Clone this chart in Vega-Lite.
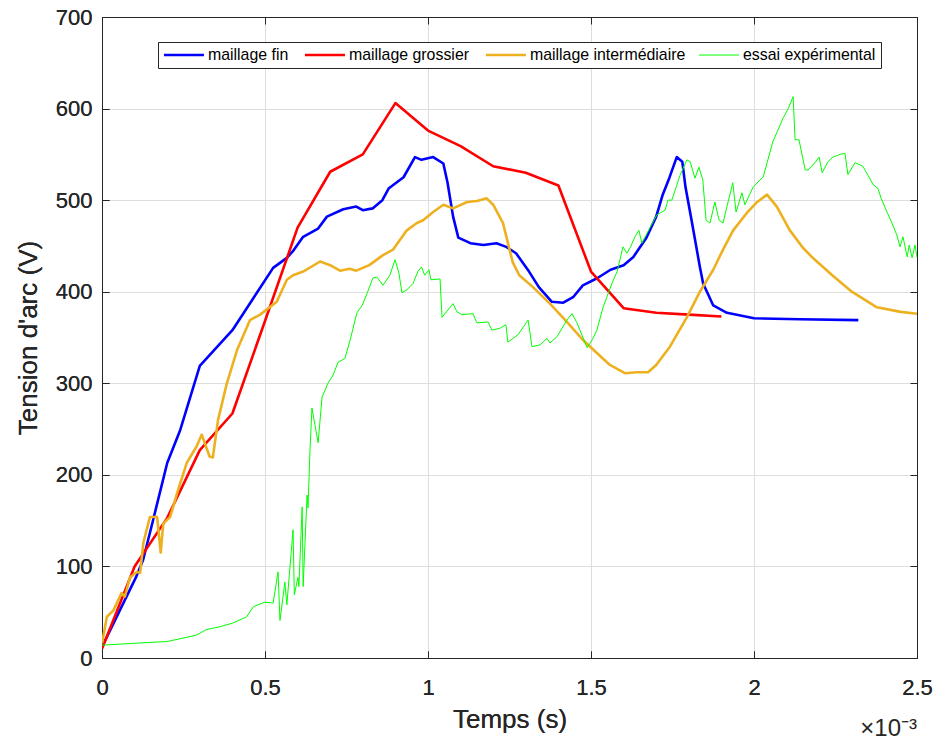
{
  "$schema": "https://vega.github.io/schema/vega-lite/v6.json",
  "autosize": "none",
  "width": 815,
  "height": 641,
  "padding": {"left": 102, "top": 17, "right": 22, "bottom": 88},
  "background": "white",
  "config": {
    "font": "Liberation Sans",
    "view": {"stroke": "#262626", "strokeWidth": 1},
    "axis": {"domainColor": "#262626", "tickColor": "#262626", "labelColor": "#262626", "titleColor": "#262626", "labelFont": "Liberation Sans", "titleFont": "Liberation Sans", "titleFontWeight": "normal"}
  },
  "data": {"values": [
    {"s":"maillage fin","t":0,"v":12},{"s":"maillage fin","t":0.104,"v":88},{"s":"maillage fin","t":0.126,"v":107},{"s":"maillage fin","t":0.157,"v":151},{"s":"maillage fin","t":0.2,"v":213},{"s":"maillage fin","t":0.24,"v":249},{"s":"maillage fin","t":0.3,"v":319},{"s":"maillage fin","t":0.4,"v":358},{"s":"maillage fin","t":0.525,"v":426},{"s":"maillage fin","t":0.567,"v":437},{"s":"maillage fin","t":0.585,"v":444},{"s":"maillage fin","t":0.617,"v":460},{"s":"maillage fin","t":0.663,"v":469},{"s":"maillage fin","t":0.69,"v":482},{"s":"maillage fin","t":0.74,"v":490},{"s":"maillage fin","t":0.78,"v":493},{"s":"maillage fin","t":0.8,"v":489},{"s":"maillage fin","t":0.83,"v":491},{"s":"maillage fin","t":0.86,"v":500},{"s":"maillage fin","t":0.88,"v":513},{"s":"maillage fin","t":0.925,"v":525},{"s":"maillage fin","t":0.96,"v":547},{"s":"maillage fin","t":0.98,"v":544},{"s":"maillage fin","t":1.016,"v":547},{"s":"maillage fin","t":1.047,"v":540},{"s":"maillage fin","t":1.06,"v":519},{"s":"maillage fin","t":1.077,"v":482},{"s":"maillage fin","t":1.093,"v":459},{"s":"maillage fin","t":1.13,"v":453},{"s":"maillage fin","t":1.17,"v":451},{"s":"maillage fin","t":1.21,"v":453},{"s":"maillage fin","t":1.24,"v":449},{"s":"maillage fin","t":1.27,"v":442},{"s":"maillage fin","t":1.31,"v":422},{"s":"maillage fin","t":1.34,"v":405},{"s":"maillage fin","t":1.38,"v":389},{"s":"maillage fin","t":1.415,"v":388},{"s":"maillage fin","t":1.445,"v":394},{"s":"maillage fin","t":1.475,"v":407},{"s":"maillage fin","t":1.52,"v":415},{"s":"maillage fin","t":1.56,"v":424},{"s":"maillage fin","t":1.6,"v":429},{"s":"maillage fin","t":1.63,"v":438},{"s":"maillage fin","t":1.67,"v":459},{"s":"maillage fin","t":1.7,"v":482},{"s":"maillage fin","t":1.72,"v":506},{"s":"maillage fin","t":1.74,"v":524},{"s":"maillage fin","t":1.763,"v":547},{"s":"maillage fin","t":1.78,"v":542},{"s":"maillage fin","t":1.79,"v":514},{"s":"maillage fin","t":1.81,"v":475},{"s":"maillage fin","t":1.834,"v":427},{"s":"maillage fin","t":1.844,"v":409},{"s":"maillage fin","t":1.875,"v":385},{"s":"maillage fin","t":1.917,"v":377},{"s":"maillage fin","t":2.0,"v":371},{"s":"maillage fin","t":2.14,"v":370},{"s":"maillage fin","t":2.32,"v":369},
    {"s":"maillage grossier","t":0,"v":10},{"s":"maillage grossier","t":0.1,"v":100},{"s":"maillage grossier","t":0.2,"v":153},{"s":"maillage grossier","t":0.3,"v":227},{"s":"maillage grossier","t":0.4,"v":267},{"s":"maillage grossier","t":0.5,"v":368},{"s":"maillage grossier","t":0.6,"v":470},{"s":"maillage grossier","t":0.7,"v":531},{"s":"maillage grossier","t":0.8,"v":550},{"s":"maillage grossier","t":0.9,"v":606},{"s":"maillage grossier","t":1.0,"v":576},{"s":"maillage grossier","t":1.1,"v":559},{"s":"maillage grossier","t":1.2,"v":537},{"s":"maillage grossier","t":1.3,"v":530},{"s":"maillage grossier","t":1.4,"v":516},{"s":"maillage grossier","t":1.5,"v":422},{"s":"maillage grossier","t":1.6,"v":382},{"s":"maillage grossier","t":1.7,"v":377},{"s":"maillage grossier","t":1.8,"v":375},{"s":"maillage grossier","t":1.9,"v":373},
    {"s":"maillage intermédiaire","t":0,"v":16},{"s":"maillage intermédiaire","t":0.015,"v":45},{"s":"maillage intermédiaire","t":0.035,"v":52},{"s":"maillage intermédiaire","t":0.06,"v":71},{"s":"maillage intermédiaire","t":0.07,"v":67},{"s":"maillage intermédiaire","t":0.086,"v":88},{"s":"maillage intermédiaire","t":0.107,"v":94},{"s":"maillage intermédiaire","t":0.117,"v":93},{"s":"maillage intermédiaire","t":0.127,"v":126},{"s":"maillage intermédiaire","t":0.147,"v":154},{"s":"maillage intermédiaire","t":0.169,"v":154},{"s":"maillage intermédiaire","t":0.18,"v":115},{"s":"maillage intermédiaire","t":0.188,"v":147},{"s":"maillage intermédiaire","t":0.209,"v":154},{"s":"maillage intermédiaire","t":0.233,"v":183},{"s":"maillage intermédiaire","t":0.26,"v":213},{"s":"maillage intermédiaire","t":0.29,"v":231},{"s":"maillage intermédiaire","t":0.306,"v":244},{"s":"maillage intermédiaire","t":0.33,"v":220},{"s":"maillage intermédiaire","t":0.34,"v":219},{"s":"maillage intermédiaire","t":0.356,"v":260},{"s":"maillage intermédiaire","t":0.383,"v":300},{"s":"maillage intermédiaire","t":0.414,"v":336},{"s":"maillage intermédiaire","t":0.454,"v":369},{"s":"maillage intermédiaire","t":0.485,"v":375},{"s":"maillage intermédiaire","t":0.536,"v":389},{"s":"maillage intermédiaire","t":0.567,"v":413},{"s":"maillage intermédiaire","t":0.586,"v":418},{"s":"maillage intermédiaire","t":0.617,"v":422},{"s":"maillage intermédiaire","t":0.669,"v":433},{"s":"maillage intermédiaire","t":0.7,"v":429},{"s":"maillage intermédiaire","t":0.73,"v":423},{"s":"maillage intermédiaire","t":0.76,"v":425},{"s":"maillage intermédiaire","t":0.78,"v":423},{"s":"maillage intermédiaire","t":0.82,"v":429},{"s":"maillage intermédiaire","t":0.862,"v":440},{"s":"maillage intermédiaire","t":0.893,"v":446},{"s":"maillage intermédiaire","t":0.935,"v":467},{"s":"maillage intermédiaire","t":0.966,"v":475},{"s":"maillage intermédiaire","t":0.985,"v":478},{"s":"maillage intermédiaire","t":1.016,"v":487},{"s":"maillage intermédiaire","t":1.047,"v":495},{"s":"maillage intermédiaire","t":1.077,"v":491},{"s":"maillage intermédiaire","t":1.12,"v":498},{"s":"maillage intermédiaire","t":1.15,"v":499},{"s":"maillage intermédiaire","t":1.18,"v":502},{"s":"maillage intermédiaire","t":1.2,"v":495},{"s":"maillage intermédiaire","t":1.23,"v":475},{"s":"maillage intermédiaire","t":1.246,"v":452},{"s":"maillage intermédiaire","t":1.26,"v":432},{"s":"maillage intermédiaire","t":1.28,"v":418},{"s":"maillage intermédiaire","t":1.322,"v":405},{"s":"maillage intermédiaire","t":1.374,"v":387},{"s":"maillage intermédiaire","t":1.426,"v":367},{"s":"maillage intermédiaire","t":1.476,"v":347},{"s":"maillage intermédiaire","t":1.518,"v":333},{"s":"maillage intermédiaire","t":1.558,"v":320},{"s":"maillage intermédiaire","t":1.604,"v":311},{"s":"maillage intermédiaire","t":1.64,"v":312},{"s":"maillage intermédiaire","t":1.675,"v":312},{"s":"maillage intermédiaire","t":1.7,"v":320},{"s":"maillage intermédiaire","t":1.742,"v":340},{"s":"maillage intermédiaire","t":1.794,"v":372},{"s":"maillage intermédiaire","t":1.834,"v":400},{"s":"maillage intermédiaire","t":1.875,"v":424},{"s":"maillage intermédiaire","t":1.905,"v":446},{"s":"maillage intermédiaire","t":1.936,"v":467},{"s":"maillage intermédiaire","t":1.978,"v":486},{"s":"maillage intermédiaire","t":2.01,"v":498},{"s":"maillage intermédiaire","t":2.04,"v":506},{"s":"maillage intermédiaire","t":2.07,"v":493},{"s":"maillage intermédiaire","t":2.11,"v":467},{"s":"maillage intermédiaire","t":2.15,"v":448},{"s":"maillage intermédiaire","t":2.18,"v":437},{"s":"maillage intermédiaire","t":2.24,"v":418},{"s":"maillage intermédiaire","t":2.3,"v":400},{"s":"maillage intermédiaire","t":2.377,"v":383},{"s":"maillage intermédiaire","t":2.45,"v":378},{"s":"maillage intermédiaire","t":2.5,"v":376},
    {"s":"essai expérimental","t":0,"v":14},{"s":"essai expérimental","t":0.095,"v":16},{"s":"essai expérimental","t":0.2,"v":18},{"s":"essai expérimental","t":0.29,"v":25},{"s":"essai expérimental","t":0.32,"v":31},{"s":"essai expérimental","t":0.36,"v":34},{"s":"essai expérimental","t":0.4,"v":38},{"s":"essai expérimental","t":0.444,"v":45},{"s":"essai expérimental","t":0.464,"v":56},{"s":"essai expérimental","t":0.485,"v":59},{"s":"essai expérimental","t":0.5,"v":61},{"s":"essai expérimental","t":0.525,"v":60},{"s":"essai expérimental","t":0.54,"v":94},{"s":"essai expérimental","t":0.546,"v":41},{"s":"essai expérimental","t":0.561,"v":83},{"s":"essai expérimental","t":0.567,"v":58},{"s":"essai expérimental","t":0.586,"v":140},{"s":"essai expérimental","t":0.59,"v":69},{"s":"essai expérimental","t":0.601,"v":88},{"s":"essai expérimental","t":0.604,"v":78},{"s":"essai expérimental","t":0.614,"v":165},{"s":"essai expérimental","t":0.617,"v":78},{"s":"essai expérimental","t":0.629,"v":178},{"s":"essai expérimental","t":0.632,"v":164},{"s":"essai expérimental","t":0.638,"v":227},{"s":"essai expérimental","t":0.644,"v":273},{"s":"essai expérimental","t":0.663,"v":235},{"s":"essai expérimental","t":0.675,"v":285},{"s":"essai expérimental","t":0.693,"v":300},{"s":"essai expérimental","t":0.709,"v":309},{"s":"essai expérimental","t":0.724,"v":323},{"s":"essai expérimental","t":0.745,"v":327},{"s":"essai expérimental","t":0.761,"v":347},{"s":"essai expérimental","t":0.782,"v":377},{"s":"essai expérimental","t":0.798,"v":385},{"s":"essai expérimental","t":0.813,"v":398},{"s":"essai expérimental","t":0.831,"v":415},{"s":"essai expérimental","t":0.843,"v":416},{"s":"essai expérimental","t":0.862,"v":407},{"s":"essai expérimental","t":0.883,"v":418},{"s":"essai expérimental","t":0.899,"v":435},{"s":"essai expérimental","t":0.911,"v":420},{"s":"essai expérimental","t":0.92,"v":399},{"s":"essai expérimental","t":0.935,"v":402},{"s":"essai expérimental","t":0.954,"v":409},{"s":"essai expérimental","t":0.969,"v":422},{"s":"essai expérimental","t":0.98,"v":427},{"s":"essai expérimental","t":0.99,"v":418},{"s":"essai expérimental","t":1.003,"v":424},{"s":"essai expérimental","t":1.009,"v":413},{"s":"essai expérimental","t":1.037,"v":414},{"s":"essai expérimental","t":1.043,"v":372},{"s":"essai expérimental","t":1.077,"v":387},{"s":"essai expérimental","t":1.089,"v":378},{"s":"essai expérimental","t":1.104,"v":375},{"s":"essai expérimental","t":1.138,"v":376},{"s":"essai expérimental","t":1.15,"v":366},{"s":"essai expérimental","t":1.184,"v":367},{"s":"essai expérimental","t":1.196,"v":358},{"s":"essai expérimental","t":1.22,"v":360},{"s":"essai expérimental","t":1.239,"v":364},{"s":"essai expérimental","t":1.245,"v":345},{"s":"essai expérimental","t":1.276,"v":353},{"s":"essai expérimental","t":1.307,"v":369},{"s":"essai expérimental","t":1.319,"v":340},{"s":"essai expérimental","t":1.344,"v":342},{"s":"essai expérimental","t":1.365,"v":349},{"s":"essai expérimental","t":1.374,"v":344},{"s":"essai expérimental","t":1.396,"v":351},{"s":"essai expérimental","t":1.426,"v":369},{"s":"essai expérimental","t":1.442,"v":376},{"s":"essai expérimental","t":1.457,"v":366},{"s":"essai expérimental","t":1.488,"v":339},{"s":"essai expérimental","t":1.503,"v":347},{"s":"essai expérimental","t":1.518,"v":358},{"s":"essai expérimental","t":1.537,"v":383},{"s":"essai expérimental","t":1.564,"v":409},{"s":"essai expérimental","t":1.58,"v":422},{"s":"essai expérimental","t":1.598,"v":449},{"s":"essai expérimental","t":1.61,"v":442},{"s":"essai expérimental","t":1.62,"v":448},{"s":"essai expérimental","t":1.635,"v":460},{"s":"essai expérimental","t":1.647,"v":467},{"s":"essai expérimental","t":1.656,"v":453},{"s":"essai expérimental","t":1.681,"v":470},{"s":"essai expérimental","t":1.702,"v":484},{"s":"essai expérimental","t":1.727,"v":489},{"s":"essai expérimental","t":1.736,"v":500},{"s":"essai expérimental","t":1.748,"v":500},{"s":"essai expérimental","t":1.773,"v":527},{"s":"essai expérimental","t":1.794,"v":544},{"s":"essai expérimental","t":1.804,"v":542},{"s":"essai expérimental","t":1.819,"v":524},{"s":"essai expérimental","t":1.831,"v":536},{"s":"essai expérimental","t":1.843,"v":522},{"s":"essai expérimental","t":1.853,"v":478},{"s":"essai expérimental","t":1.865,"v":475},{"s":"essai expérimental","t":1.88,"v":498},{"s":"essai expérimental","t":1.893,"v":478},{"s":"essai expérimental","t":1.905,"v":475},{"s":"essai expérimental","t":1.917,"v":493},{"s":"essai expérimental","t":1.935,"v":519},{"s":"essai expérimental","t":1.945,"v":487},{"s":"essai expérimental","t":1.963,"v":508},{"s":"essai expérimental","t":1.972,"v":495},{"s":"essai expérimental","t":1.997,"v":514},{"s":"essai expérimental","t":2.018,"v":522},{"s":"essai expérimental","t":2.028,"v":525},{"s":"essai expérimental","t":2.058,"v":564},{"s":"essai expérimental","t":2.09,"v":590},{"s":"essai expérimental","t":2.105,"v":600},{"s":"essai expérimental","t":2.12,"v":613},{"s":"essai expérimental","t":2.126,"v":566},{"s":"essai expérimental","t":2.138,"v":566},{"s":"essai expérimental","t":2.157,"v":533},{"s":"essai expérimental","t":2.166,"v":533},{"s":"essai expérimental","t":2.187,"v":541},{"s":"essai expérimental","t":2.2,"v":547},{"s":"essai expérimental","t":2.209,"v":530},{"s":"essai expérimental","t":2.227,"v":542},{"s":"essai expérimental","t":2.242,"v":547},{"s":"essai expérimental","t":2.264,"v":550},{"s":"essai expérimental","t":2.279,"v":551},{"s":"essai expérimental","t":2.288,"v":528},{"s":"essai expérimental","t":2.31,"v":541},{"s":"essai expérimental","t":2.334,"v":537},{"s":"essai expérimental","t":2.35,"v":527},{"s":"essai expérimental","t":2.365,"v":517},{"s":"essai expérimental","t":2.38,"v":513},{"s":"essai expérimental","t":2.39,"v":502},{"s":"essai expérimental","t":2.408,"v":487},{"s":"essai expérimental","t":2.423,"v":475},{"s":"essai expérimental","t":2.438,"v":462},{"s":"essai expérimental","t":2.448,"v":449},{"s":"essai expérimental","t":2.457,"v":460},{"s":"essai expérimental","t":2.47,"v":438},{"s":"essai expérimental","t":2.476,"v":451},{"s":"essai expérimental","t":2.485,"v":437},{"s":"essai expérimental","t":2.494,"v":451},{"s":"essai expérimental","t":2.5,"v":438}
  ]},
  "resolve": {"axis": {"x": "independent", "y": "independent"}},
  "encoding": {
    "x": {"field": "t", "type": "quantitative", "title": "Temps (s)",
      "scale": {"domain": [0, 2.5], "nice": false},
      "axis": {"orient": "bottom", "values": [0, 0.5, 1, 1.5, 2, 2.5], "labelExpr": "datum.value + ''", "grid": true, "gridColor": "#dedede", "tickSize": -7, "labelPadding": 26, "labelFontSize": 22, "titleFontSize": 26, "titlePadding": 8, "labelFlush": false}},
    "y": {"field": "v", "type": "quantitative", "title": "Tension d'arc (V)",
      "scale": {"domain": [0, 700], "nice": false},
      "axis": {"orient": "left", "values": [0, 100, 200, 300, 400, 500, 600, 700], "grid": true, "gridColor": "#dedede", "tickSize": -7, "labelPadding": 17, "labelFontSize": 22, "titleFontSize": 26, "titlePadding": 14}},
    "color": {"field": "s", "type": "nominal",
      "scale": {"domain": ["maillage fin", "maillage grossier", "maillage intermédiaire", "essai expérimental"], "range": ["#0000ff", "#ff0000", "#edb120", "#00ff00"]},
      "legend": {"orient": "none", "legendX": 56, "legendY": 25, "direction": "horizontal", "title": null, "symbolType": "M-1,0H4.714", "symbolSize": 196, "symbolStrokeWidth": 2.5, "labelFontSize": 15.9, "labelFont": "Liberation Sans", "labelColor": "#000000", "padding": 5, "strokeColor": "#262626", "fillColor": "white", "columnPadding": 10, "labelOffset": 29, "cornerRadius": 0,
        "encode": {"symbols": {"update": {"strokeWidth": {"signal": "datum.value === 'essai expérimental' ? 1 : 2.6"}}}}}
    }
  },
  "layer": [
    {
      "transform": [{"filter": "datum.s !== 'essai expérimental'"}],
      "mark": {"type": "line", "clip": true, "strokeWidth": 2.6, "strokeJoin": "round"}
    },
    {
      "transform": [{"filter": "datum.s === 'essai expérimental'"}],
      "mark": {"type": "line", "clip": true, "strokeWidth": 1, "strokeJoin": "round"}
    },
    {
      "data": {"values": [{"label": "×10⁻³", "t": 2.5, "v": 0}]},
      "mark": {"type": "text", "align": "right", "baseline": "alphabetic", "dy": 78, "fontSize": 24, "font": "Liberation Sans", "color": "#262626"},
      "encoding": {
        "x": {"field": "t", "type": "quantitative", "axis": {"orient": "top", "labels": false, "title": null, "grid": false, "tickSize": -7, "values": [0, 0.5, 1, 1.5, 2, 2.5]}},
        "y": {"field": "v", "type": "quantitative", "axis": {"orient": "right", "labels": false, "title": null, "grid": false, "tickSize": -7, "values": [0, 100, 200, 300, 400, 500, 600, 700]}},
        "text": {"field": "label"},
        "color": {"value": "#262626"}
      }
    }
  ]
}
